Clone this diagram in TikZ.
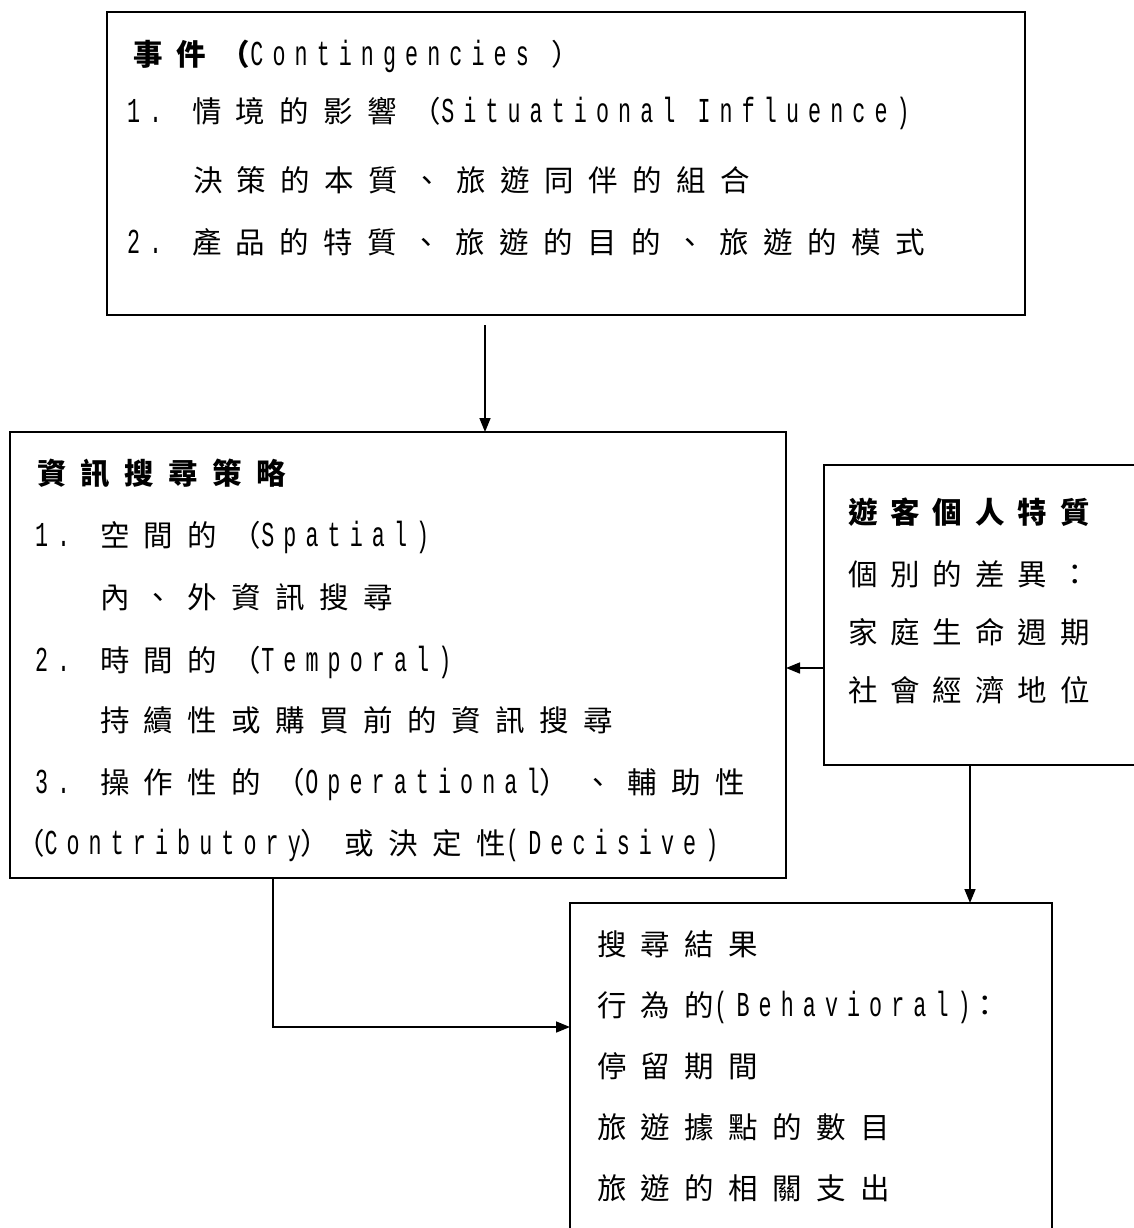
\documentclass[tikz,border=0pt]{standalone}
\usepackage{fontspec}
\usetikzlibrary{arrows.meta}
\newfontfamily\cjkf[LetterSpace=49]{Noto Sans CJK TC}
\newfontfamily\cjkr[LetterSpace=44]{Noto Sans CJK TC}
\newfontfamily\latf[FakeStretch=0.62,LetterSpace=26]{Liberation Mono}
\newcommand\numlab[1]{\makebox[65pt][l]{\latf #1}}
\newcommand\C[1]{{\cjkf #1}}
\newcommand\R[1]{{\cjkr #1}}
\newcommand\La[1]{{\fontsize{35}{36}\selectfont\latf #1}}
\tikzset{
  box/.style={draw=black, line width=2pt, anchor=north west, inner sep=0pt, outer sep=0pt},
  txt/.style={anchor=base west, inner sep=0pt, outer sep=0pt, font=\fontsize{29.5}{31}\selectfont},
  arr/.style={draw=black, line width=1.6pt, -{Triangle[length=14pt,width=11pt]}}
}
\begin{document}
\begin{tikzpicture}[x=1pt,y=-1pt]
\useasboundingbox (0,0) rectangle (1133,1228);
% boxes
\node[box, minimum width=918pt, minimum height=303pt] (cont) at (107,12) {};
\node[box, minimum width=776pt, minimum height=446pt] (search) at (10,432) {};
\node[box, minimum width=320pt, minimum height=300pt] (trait) at (824,465) {};
\node[box, minimum width=482pt, minimum height=340pt] (result) at (570,903) {};
% top box text
\node[txt] (t1) at (133,66) {\C{\bfseries 事件（}\La{Contingencies }\C{）}};
\node[txt] (t2) at (127,123) {\numlab{\La{1.}}\C{情境的影響（}\La{Situational Influence)}};
\node[txt] (t3) at (193,191) {\C{決策的本質、旅遊同伴的組合}};
\node[txt] (t4) at (127,253) {\numlab{\La{2.}}\C{產品的特質、旅遊的目的、旅遊的模式}};
% search box text
\node[txt] (s1) at (37,484) {\C{\bfseries 資訊搜尋策略}};
\node[txt] (s2) at (35,546) {\numlab{\La{1.}}\C{空間的（}\La{Spatial)}};
\node[txt] (s3) at (100,608) {\C{內、外資訊搜尋}};
\node[txt] (s4) at (35,671) {\numlab{\La{2.}}\C{時間的（}\La{Temporal)}};
\node[txt] (s5) at (100,731) {\C{持續性或購買前的資訊搜尋}};
\node[txt] (s6) at (35,793) {\numlab{\La{3.}}\C{操作性的（}\La{Operational}\C{）、輔助性}};
\node[txt] (s7) at (15,854) {\C{（}\La{Contributory}\C{）或決定性}\La{(Decisive)}};
% trait box text
\node[txt] (r1) at (848,523) {\R{\bfseries 遊客個人特質}};
\node[txt] (r2) at (848,585) {\R{個別的差異：}};
\node[txt] (r3) at (848,643) {\R{家庭生命週期}};
\node[txt] (r4) at (848,701) {\R{社會經濟地位}};
% result box text
\node[txt] (b1) at (597,955) {\C{搜尋結果}};
\node[txt] (b2) at (597,1016) {\C{行為的}\La{(Behavioral)}\C{：}};
\node[txt] (b3) at (597,1077) {\C{停留期間}};
\node[txt] (b4) at (597,1138) {\C{旅遊據點的數目}};
\node[txt] (b5) at (597,1199) {\C{旅遊的相關支出}};
% connectors
\coordinate (p1) at (485,325);
\draw[arr] (p1) -- (p1 |- search.north);
\coordinate (p2) at (824,668);
\draw[arr] (p2) -- (p2 -| search.east);
\coordinate (p3) at (970,765);
\draw[arr] (p3) -- (p3 |- result.north);
\coordinate (p4) at (273,878);
\coordinate (p5) at (273,1027);
\draw[arr] (p4) -- (p5) -- (p5 -| result.west);
\end{tikzpicture}
\end{document}
